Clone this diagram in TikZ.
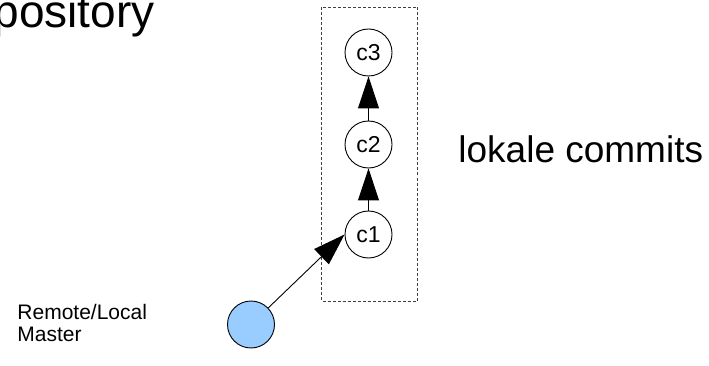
\documentclass[tikz,border=0pt]{standalone}
\usepackage{fontspec}
\setmainfont{Liberation Sans}
\usetikzlibrary{arrows.meta}

\begin{document}
\begin{tikzpicture}[x=1pt,y=-1pt,line width=0.9pt,
  commit/.style={circle,draw,minimum size=47pt,inner sep=0pt,font=\fontsize{23}{27}\selectfont},
  link/.style={-{Triangle[length=32pt,width=21pt]}},
  group/.style={draw=black!75,dash pattern=on 3pt off 2pt}]
  \useasboundingbox (0,0) rectangle (709,366);
  \clip (0,0) rectangle (709,366);

  \node[anchor=base east,inner sep=0pt,font=\fontsize{46}{55}\selectfont] (title) at (155,28) {Repository};
  \draw[group] (321.5,7) rectangle (417,301);

  \node[commit] (c1) at (368.5,234.5) {c1};
  \node[commit] (c2) at (368.5,144.5) {c2};
  \node[commit] (c3) at (368.5,52.5) {c3};
  \node[circle,draw,fill={rgb,255:red,153;green,204;blue,255},minimum size=47pt,inner sep=0pt] (master) at (251,324.5) {};

  \node[anchor=base west,inner sep=0pt,font=\fontsize{37}{44}\selectfont] (label) at (458,163) {lokale commits};
  \node[anchor=base west,inner sep=0pt,align=left,font=\fontsize{21}{22}\selectfont] (mlabel) at (17,341) {Remote/Local\\Master};

  \draw[link] (c1) -- (c2);
  \draw[link] (c2) -- (c3);
  \draw[link] (master) -- (c1.west);
\end{tikzpicture}
\end{document}
